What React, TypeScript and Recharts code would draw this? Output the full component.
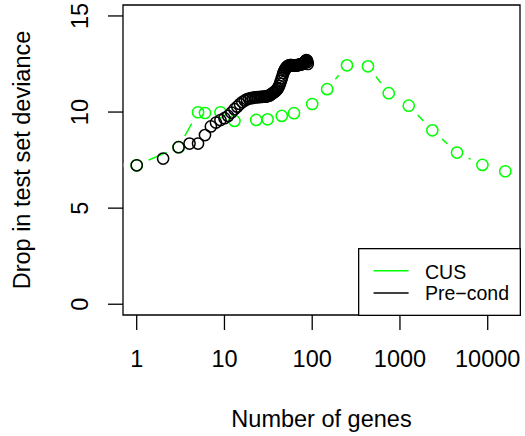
import React from "react";
import { ComposedChart, Line, Scatter, XAxis, YAxis, ReferenceArea, Legend, Label } from "recharts";

// CUS series (green): number of genes vs drop in test set deviance
const CUS_GENES = [1, 3, 5, 6, 9, 13, 23, 31, 45, 62, 100, 148, 249, 432, 745, 1259, 2340, 4470, 8700, 15850];
const CUS_DROP = [7.23, 8.17, 9.99, 9.95, 9.99, 9.54, 9.59, 9.62, 9.8, 9.94, 10.42, 11.19, 12.43, 12.38, 10.98, 10.33, 9.05, 7.89, 7.25, 6.92];

// Pre-cond series (black), one point per gene count 1..89
const PRE_GENES = [
  1, 2, 3, 4, 5, 6, 7, 8, 9, 10, 11, 12, 13, 14, 15, 16, 17, 18, 19, 20,
  21, 22, 23, 24, 25, 26, 27, 28, 29, 30, 31, 32, 33, 34, 35, 36, 37, 38, 39, 40,
  41, 42, 43, 44, 45, 46, 47, 48, 49, 50, 51, 52, 53, 54, 55, 56, 57, 58, 59, 60,
  61, 62, 63, 64, 65, 66, 67, 68, 69, 70, 71, 72, 73, 74, 75, 76, 77, 78, 79, 80,
  81, 82, 83, 84, 85, 86, 87, 88, 89,
];
const PRE_DROP = [
  7.23, 7.58, 8.17, 8.36, 8.36, 8.8, 9.25, 9.45, 9.58, 9.68, 9.8, 9.97, 10.15, 10.28, 10.42, 10.52, 10.6, 10.66, 10.7, 10.72,
  10.74, 10.76, 10.77, 10.78, 10.78, 10.79, 10.79, 10.8, 10.8, 10.81, 10.83, 10.85, 10.88, 10.92, 10.96, 11.0, 11.04, 11.08, 11.13, 11.19,
  11.26, 11.36, 11.48, 11.62, 11.76, 11.9, 12.03, 12.13, 12.21, 12.28, 12.33, 12.37, 12.4, 12.42, 12.43, 12.44, 12.44, 12.44, 12.43, 12.43,
  12.42, 12.42, 12.42, 12.42, 12.42, 12.43, 12.43, 12.44, 12.45, 12.45, 12.46, 12.46, 12.47, 12.48, 12.49, 12.5, 12.51, 12.52, 12.53, 12.55,
  12.57, 12.59, 12.62, 12.65, 12.68, 12.7, 12.68, 12.6, 12.5,
];

const X_TICKS = [1, 10, 100, 1000, 10000];
const Y_TICKS = [0, 5, 10, 15];
const X_DOMAIN = [0.698, 23330];
const Y_DOMAIN = [-0.56, 15.57];

const VERDE = "#00ff00";
const FONTE = "'Liberation Sans', Arial, sans-serif";
const TAM = 23.5;

const cus = CUS_GENES.map((x, i) => ({ x, y: CUS_DROP[i] }));
const pre = PRE_GENES.map((x, i) => ({ x, y: PRE_DROP[i] }));

const circulo = (cor: string, r: number, fill = "none", sw = 1.5) => (props: any) => (
  <circle cx={props.cx} cy={props.cy} r={r} fill={fill} stroke={fill === "none" ? cor : "none"} strokeWidth={sw} />
);

function TickX({ x, y, payload }: any) {
  return (
    <text x={x} y={y + 37.3} textAnchor="middle" fontSize={TAM} fontFamily={FONTE} fill="#000">
      {String(payload.value)}
    </text>
  );
}

function TickY({ x, y, payload }: any) {
  const bx = x - 19.7;
  return (
    <text x={bx} y={y} transform={`rotate(-90 ${bx} ${y})`} textAnchor="middle" fontSize={TAM} fontFamily={FONTE} fill="#000">
      {String(payload.value)}
    </text>
  );
}

function Legenda() {
  const fs = 19.5;
  return (
    <svg width={163} height={68} style={{ display: "block" }}>
      <rect x={0.65} y={0.65} width={161.7} height={66.7} fill="#fff" stroke="#000" strokeWidth={1.3} />
      <line x1={15.6} x2={50.6} y1={22.8} y2={22.8} stroke={VERDE} strokeWidth={1.5} />
      <text x={67} y={30.6} fontSize={fs} fontFamily={FONTE} fill="#000">CUS</text>
      <line x1={15.6} x2={50.6} y1={45.1} y2={45.1} stroke="#000" strokeWidth={1.5} />
      <text x={67} y={51.6} fontSize={fs} fontFamily={FONTE} fill="#000">Pre{"\u2212"}cond</text>
    </svg>
  );
}

export default function App() {
  return (
    <div style={{ position: "absolute", left: 0, top: 0, width: 525, height: 436, background: "#fff" }}>
      <ComposedChart width={525} height={436} margin={{ top: 5, right: 5, bottom: 0, left: 0 }} style={{ fontFamily: FONTE }}>
        <XAxis
          dataKey="x"
          type="number"
          scale="log"
          domain={X_DOMAIN}
          allowDataOverflow
          ticks={X_TICKS}
          height={121}
          tickSize={15}
          tickMargin={0}
          axisLine={false}
          tickLine={{ stroke: "#000", strokeWidth: 1.3 }}
          tick={<TickX />}
          interval={0}
        >
          <Label
            content={({ viewBox }: any) => (
              <text x={viewBox.x + viewBox.width / 2} y={426.7} textAnchor="middle" fontSize={TAM} fontFamily={FONTE} fill="#000">
                Number of genes
              </text>
            )}
          />
        </XAxis>
        <YAxis
          dataKey="y"
          type="number"
          domain={Y_DOMAIN}
          allowDataOverflow
          ticks={Y_TICKS}
          width={123}
          tickSize={15}
          tickMargin={0}
          axisLine={false}
          tickLine={{ stroke: "#000", strokeWidth: 1.3 }}
          tick={<TickY />}
          interval={0}
        >
          <Label
            content={({ viewBox }: any) => {
              const cy = viewBox.y + viewBox.height / 2;
              return (
                <text x={30} y={cy} transform={`rotate(-90 30 ${cy})`} textAnchor="middle" fontSize={TAM} fontFamily={FONTE} fill="#000">
                  Drop in test set deviance
                </text>
              );
            }}
          />
        </YAxis>
        <Line data={cus} dataKey="y" type="linear" stroke={VERDE} strokeWidth={1.5} dot={false} activeDot={false} isAnimationActive={false} />
        <Scatter data={cus} dataKey="y" shape={circulo(VERDE, 13, "#fff")} isAnimationActive={false} />
        <Scatter data={cus} dataKey="y" shape={circulo(VERDE, 5.6)} isAnimationActive={false} />
        <Scatter data={pre} dataKey="y" shape={circulo("#000", 5.6)} isAnimationActive={false} />
        <ReferenceArea
          x1={X_DOMAIN[0]}
          x2={X_DOMAIN[1]}
          y1={Y_DOMAIN[0]}
          y2={Y_DOMAIN[1]}
          fill="none"
          stroke="#000"
          strokeWidth={1.3}
          ifOverflow="visible"
        />
        <Legend
          layout="vertical"
          align="center"
          verticalAlign="middle"
          wrapperStyle={{ position: "absolute", left: 357.7, top: 247.7, width: 163, height: 68 }}
          content={() => <Legenda />}
        />
      </ComposedChart>
    </div>
  );
}
